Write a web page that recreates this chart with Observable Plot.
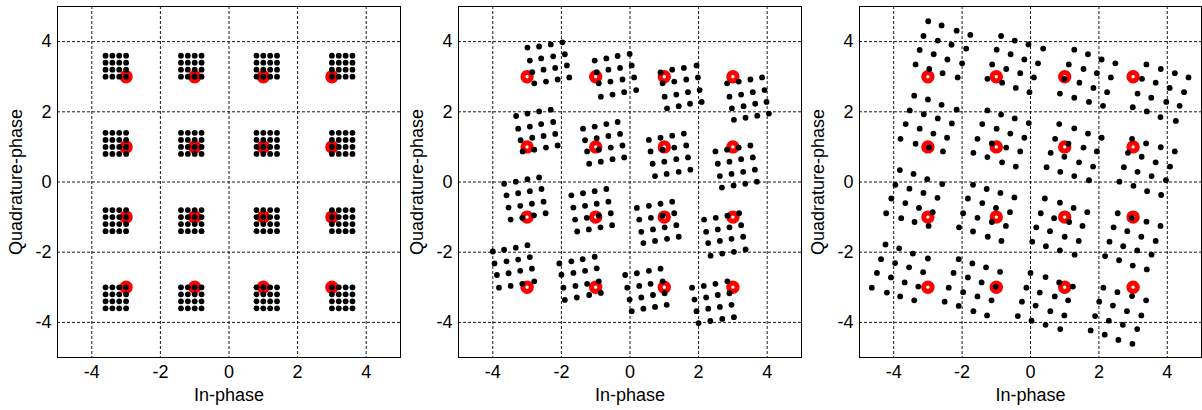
<!DOCTYPE html>
<html>
<head>
<meta charset="utf-8">
<script src="https://cdn.jsdelivr.net/npm/d3@7"></script>
<script src="https://cdn.jsdelivr.net/npm/@observablehq/plot@0.6"></script>
<style>
  html, body { margin: 0; padding: 0; background: #fff; overflow: hidden; }
  #row { display: flex; flex-direction: row; width: 1202px; height: 410px; }
  #row svg { display: block; }
</style>
</head>
<body>
<div id="row"></div>
<script>
// Ideal 16-QAM reference points (red rings)
const refLevels = [-3, -1, 1, 3];

// Panel 1: received symbol levels on each rail (4x4 sub-grid per symbol)
const levelsI = [-3.6, -3.4, -3.2, -3.0, -1.4, -1.2, -1.0, -0.8, 0.8, 1.0, 1.2, 1.4, 3.0, 3.2, 3.4, 3.6];
const levelsQ = [-3.6, -3.4, -3.2, -3.0, -1.4, -1.2, -1.0, -0.8, 0.8, 1.0, 1.2, 1.4, 3.0, 3.2, 3.4, 3.6];

// Panel 2: received symbols, 16 per cluster (cluster order: Q=3,1,-1,-3; I=-3,-1,1,3)
const panel2I = [
  -2.99,-2.65,-2.31,-1.97, -2.92,-2.59,-2.24,-1.90, -2.85,-2.52,-2.18,-1.84, -2.79,-2.45,-2.11,-1.77,
  -1.03,-0.69,-0.36,-0.01, -0.97,-0.63,-0.29,0.05, -0.91,-0.57,-0.22,0.12, -0.85,-0.51,-0.17,0.18,
  0.89,1.23,1.57,1.94, 0.95,1.29,1.64,1.98, 1.01,1.35,1.69,2.03, 1.08,1.42,1.75,2.09,
  2.83,3.17,3.51,3.85, 2.90,3.24,3.58,3.92, 2.97,3.31,3.65,3.98, 3.03,3.37,3.71,4.05,
  -3.32,-2.99,-2.65,-2.31, -3.26,-2.92,-2.59,-2.24, -3.19,-2.85,-2.52,-2.18, -3.13,-2.79,-2.45,-2.11,
  -1.37,-1.03,-0.69,-0.36, -1.31,-0.97,-0.63,-0.29, -1.25,-0.91,-0.56,-0.22, -1.19,-0.85,-0.51,-0.17,
  0.55,0.89,1.23,1.57, 0.60,0.95,1.29,1.64, 0.66,1.00,1.35,1.69, 0.73,1.07,1.42,1.76,
  2.49,2.83,3.17,3.51, 2.56,2.90,3.24,3.58, 2.62,2.96,3.30,3.64, 2.68,3.02,3.36,3.70,
  -3.67,-3.33,-2.99,-2.65, -3.60,-3.26,-2.92,-2.58, -3.54,-3.20,-2.86,-2.52, -3.48,-3.14,-2.80,-2.46,
  -1.71,-1.37,-1.03,-0.69, -1.65,-1.31,-0.97,-0.63, -1.60,-1.26,-0.91,-0.56, -1.54,-1.20,-0.86,-0.52,
  0.20,0.55,0.89,1.23, 0.27,0.61,0.95,1.29, 0.33,0.67,1.01,1.35, 0.39,0.73,1.08,1.42,
  2.16,2.50,2.84,3.18, 2.22,2.56,2.90,3.24, 2.28,2.62,2.96,3.30, 2.35,2.69,3.03,3.37,
  -4.00,-3.67,-3.33,-2.99, -3.95,-3.60,-3.26,-2.92, -3.88,-3.54,-3.20,-2.86, -3.82,-3.48,-3.14,-2.79,
  -2.06,-1.71,-1.38,-1.03, -2.00,-1.65,-1.31,-0.97, -1.94,-1.59,-1.25,-0.91, -1.90,-1.55,-1.19,-0.85,
  -0.14,0.20,0.55,0.89, -0.08,0.27,0.60,0.95, -0.01,0.33,0.67,1.01, 0.05,0.39,0.73,1.07,
  1.81,2.15,2.49,2.84, 1.88,2.22,2.56,2.90, 1.94,2.28,2.62,2.96, 2.00,2.34,2.69,3.03
];
const panel2Q = [
  3.83,3.86,3.92,3.98, 3.46,3.52,3.58,3.64, 3.13,3.20,3.25,3.32, 2.81,2.86,2.92,2.98,
  3.46,3.52,3.59,3.65, 3.13,3.20,3.25,3.32, 2.81,2.86,2.92,2.98, 2.43,2.49,2.56,2.62,
  3.12,3.20,3.25,3.32, 2.81,2.86,2.92,2.98, 2.43,2.49,2.56,2.62, 2.10,2.16,2.23,2.28,
  2.81,2.86,2.92,2.98, 2.43,2.49,2.56,2.62, 2.10,2.16,2.23,2.28, 1.77,1.83,1.89,1.95,
  1.88,1.95,2.01,2.06, 1.52,1.58,1.65,1.71, 1.19,1.26,1.31,1.37, 0.87,0.92,0.98,1.04,
  1.52,1.58,1.65,1.71, 1.19,1.25,1.31,1.37, 0.87,0.92,0.98,1.04, 0.52,0.58,0.65,0.70,
  1.20,1.26,1.32,1.38, 0.87,0.92,0.98,1.04, 0.52,0.58,0.65,0.70, 0.17,0.23,0.29,0.35,
  0.87,0.92,0.98,1.04, 0.52,0.58,0.65,0.70, 0.17,0.23,0.29,0.35, -0.16,-0.10,-0.05,0.01,
  -0.05,0.01,0.08,0.13, -0.38,-0.32,-0.26,-0.20, -0.73,-0.68,-0.62,-0.56, -1.07,-1.02,-0.95,-0.89,
  -0.38,-0.32,-0.26,-0.20, -0.73,-0.68,-0.62,-0.56, -1.07,-1.02,-0.96,-0.89, -1.41,-1.35,-1.29,-1.23,
  -0.74,-0.68,-0.62,-0.56, -1.07,-1.02,-0.96,-0.89, -1.42,-1.35,-1.29,-1.23, -1.74,-1.68,-1.62,-1.56,
  -1.07,-1.02,-0.96,-0.89, -1.42,-1.35,-1.29,-1.23, -1.74,-1.68,-1.62,-1.56, -2.10,-2.04,-1.99,-1.92,
  -1.98,-1.93,-1.87,-1.80, -2.32,-2.26,-2.21,-2.14, -2.65,-2.60,-2.53,-2.47, -3.01,-2.96,-2.90,-2.83,
  -2.32,-2.26,-2.20,-2.13, -2.64,-2.59,-2.53,-2.46, -3.01,-2.96,-2.90,-2.83, -3.36,-3.29,-3.22,-3.16,
  -2.65,-2.60,-2.53,-2.47, -3.01,-2.96,-2.90,-2.83, -3.35,-3.29,-3.22,-3.17, -3.68,-3.61,-3.56,-3.50,
  -3.01,-2.96,-2.90,-2.83, -3.35,-3.29,-3.22,-3.17, -3.68,-3.61,-3.56,-3.50, -4.02,-3.96,-3.90,-3.85
];

// Panel 3: received symbols with a larger phase error, same cluster order
const panel3I = [
  -2.99,-2.60,-2.16,-1.76, -3.13,-2.71,-2.31,-1.88, -3.24,-2.83,-2.43,-2.00, -3.36,-2.96,-2.57,-2.13,
  -0.86,-0.46,-0.06,0.37, -0.99,-0.58,-0.18,0.22, -1.12,-0.71,-0.30,0.10, -1.26,-0.83,-0.43,-0.03,
  1.28,1.68,2.08,2.48, 1.12,1.55,1.94,2.35, 0.99,1.43,1.84,2.24, 0.86,1.28,1.71,2.12,
  3.39,3.81,4.22,4.62, 3.26,3.66,4.07,4.49, 3.13,3.53,3.97,4.36, 2.99,3.40,3.80,4.25,
  -3.40,-3.00,-2.60,-2.16, -3.53,-3.12,-2.71,-2.30, -3.65,-3.24,-2.84,-2.44, -3.80,-3.36,-2.97,-2.56,
  -1.26,-0.86,-0.46,-0.05, -1.41,-0.99,-0.59,-0.18, -1.55,-1.13,-0.71,-0.30, -1.67,-1.26,-0.83,-0.43,
  0.84,1.28,1.68,2.08, 0.72,1.11,1.55,1.94, 0.59,0.99,1.42,1.83, 0.47,0.87,1.28,1.71,
  2.97,3.38,3.81,4.22, 2.85,3.25,3.66,4.08, 2.73,3.13,3.54,3.96, 2.60,3.01,3.41,3.82,
  -3.82,-3.42,-3.02,-2.58, -3.95,-3.54,-3.13,-2.72, -4.07,-3.66,-3.26,-2.86, -4.22,-3.78,-3.39,-2.98,
  -1.68,-1.28,-0.88,-0.47, -1.83,-1.41,-1.01,-0.60, -1.97,-1.55,-1.13,-0.72, -2.09,-1.68,-1.25,-0.85,
  0.42,0.86,1.26,1.66, 0.30,0.69,1.13,1.52, 0.17,0.57,1.00,1.41, 0.05,0.45,0.86,1.29,
  2.55,2.96,3.39,3.80, 2.43,2.83,3.24,3.66, 2.31,2.71,3.12,3.54, 2.18,2.59,2.99,3.40,
  -4.24,-3.84,-3.44,-3.00, -4.37,-3.96,-3.55,-3.14, -4.49,-4.08,-3.68,-3.28, -4.64,-4.20,-3.81,-3.40,
  -2.10,-1.70,-1.30,-0.89, -2.25,-1.83,-1.43,-1.02, -2.39,-1.97,-1.55,-1.14, -2.51,-2.10,-1.67,-1.27,
  0.00,0.44,0.84,1.24, -0.12,0.27,0.71,1.10, -0.25,0.15,0.58,0.99, -0.37,0.03,0.44,0.87,
  2.13,2.54,2.97,3.38, 2.01,2.41,2.82,3.24, 1.89,2.29,2.70,3.12, 1.76,2.17,2.57,2.98
];
const panel3Q = [
  4.58,4.46,4.31,4.19, 4.16,4.03,3.91,3.80, 3.76,3.64,3.49,3.38, 3.35,3.22,3.10,2.98,
  4.16,4.03,3.92,3.80, 3.77,3.64,3.49,3.38, 3.35,3.22,3.10,2.98, 2.94,2.83,2.68,2.56,
  3.77,3.64,3.49,3.38, 3.35,3.22,3.10,2.98, 2.94,2.83,2.68,2.56, 2.52,2.40,2.28,2.17,
  3.35,3.22,3.10,2.98, 2.94,2.83,2.68,2.56, 2.52,2.40,2.28,2.17, 2.13,2.01,1.85,1.74,
  2.46,2.35,2.20,2.06, 2.04,1.93,1.81,1.67, 1.65,1.52,1.38,1.26, 1.23,1.09,0.98,0.87,
  2.04,1.92,1.81,1.68, 1.65,1.52,1.38,1.26, 1.23,1.10,0.98,0.87, 0.83,0.71,0.56,0.44,
  1.65,1.53,1.38,1.26, 1.23,1.09,0.98,0.87, 0.83,0.72,0.56,0.44, 0.42,0.29,0.17,0.05,
  1.23,1.10,0.99,0.87, 0.83,0.72,0.56,0.44, 0.42,0.29,0.17,0.05, 0.01,-0.11,-0.26,-0.37,
  0.34,0.23,0.08,-0.06, -0.08,-0.19,-0.31,-0.45, -0.47,-0.60,-0.74,-0.86, -0.89,-1.03,-1.14,-1.25,
  -0.08,-0.20,-0.31,-0.44, -0.47,-0.60,-0.74,-0.86, -0.89,-1.02,-1.14,-1.25, -1.29,-1.41,-1.56,-1.68,
  -0.47,-0.59,-0.74,-0.86, -0.89,-1.03,-1.14,-1.25, -1.29,-1.40,-1.56,-1.68, -1.70,-1.83,-1.95,-2.07,
  -0.89,-1.02,-1.13,-1.25, -1.29,-1.40,-1.56,-1.68, -1.70,-1.83,-1.95,-2.07, -2.11,-2.23,-2.38,-2.49,
  -1.78,-1.89,-2.04,-2.18, -2.20,-2.31,-2.43,-2.57, -2.59,-2.72,-2.86,-2.98, -3.01,-3.15,-3.26,-3.37,
  -2.20,-2.32,-2.43,-2.56, -2.59,-2.72,-2.86,-2.98, -3.01,-3.14,-3.26,-3.37, -3.41,-3.53,-3.68,-3.80,
  -2.59,-2.71,-2.86,-2.98, -3.01,-3.15,-3.26,-3.37, -3.41,-3.52,-3.68,-3.80, -3.82,-3.95,-4.07,-4.19,
  -3.01,-3.14,-3.25,-3.37, -3.41,-3.52,-3.68,-3.80, -3.82,-3.95,-4.07,-4.19, -4.23,-4.35,-4.50,-4.61
];

// Axis ticks and labels
const tickValues = [-4, -2, 0, 2, 4];
const xLabel = "In-phase";
const yLabel = "Quadrature-phase";

// Build point tables
const refPoints = refLevels.flatMap(q => refLevels.map(i => ({i, q})));
const panel1 = levelsQ.flatMap(q => levelsI.map(i => ({i, q})));
const zipIQ = (I, Q) => I.map((i, k) => ({i, q: Q[k]}));
const panels = [panel1, zipIQ(panel2I, panel2Q), zipIQ(panel3I, panel3Q)];
const widths = [401, 401, 400];

function constellation(points, width) {
  return Plot.plot({
    width,
    height: 410,
    marginLeft: 57,
    marginRight: 1,
    marginTop: 6,
    marginBottom: 53,
    style: {
      fontFamily: "'Liberation Sans', Arial, sans-serif",
      fontSize: "18px",
      color: "#000",
      background: "#fff",
      overflow: "visible"
    },
    x: {
      domain: [-5, 5],
      ticks: tickValues,
      tickFormat: d => String(d),
      tickSize: 0,
      tickPadding: 8,
      label: xLabel,
      labelAnchor: "center",
      labelArrow: "none",
      labelOffset: 43
    },
    y: {
      domain: [-5, 5],
      ticks: tickValues,
      tickFormat: d => String(d),
      tickSize: 0,
      tickPadding: 6,
      label: yLabel,
      labelAnchor: "center",
      labelArrow: "none",
      labelOffset: 48
    },
    marks: [
      Plot.gridX(tickValues, {stroke: "#000", strokeOpacity: 0.9, strokeDasharray: "3,2", strokeWidth: 1}),
      Plot.gridY(tickValues, {stroke: "#000", strokeOpacity: 0.9, strokeDasharray: "3,2", strokeWidth: 1}),
      Plot.dot(refPoints, {x: "i", y: "q", r: 4.2, stroke: "#ff0000", strokeWidth: 5, fill: "none"}),
      Plot.dot(points, {x: "i", y: "q", r: 2.9, fill: "#000", stroke: "none"}),
      Plot.frame({stroke: "#000", strokeWidth: 1})
    ]
  });
}

const row = document.getElementById("row");
panels.forEach((pts, k) => row.appendChild(constellation(pts, widths[k])));
</script>
</body>
</html>
